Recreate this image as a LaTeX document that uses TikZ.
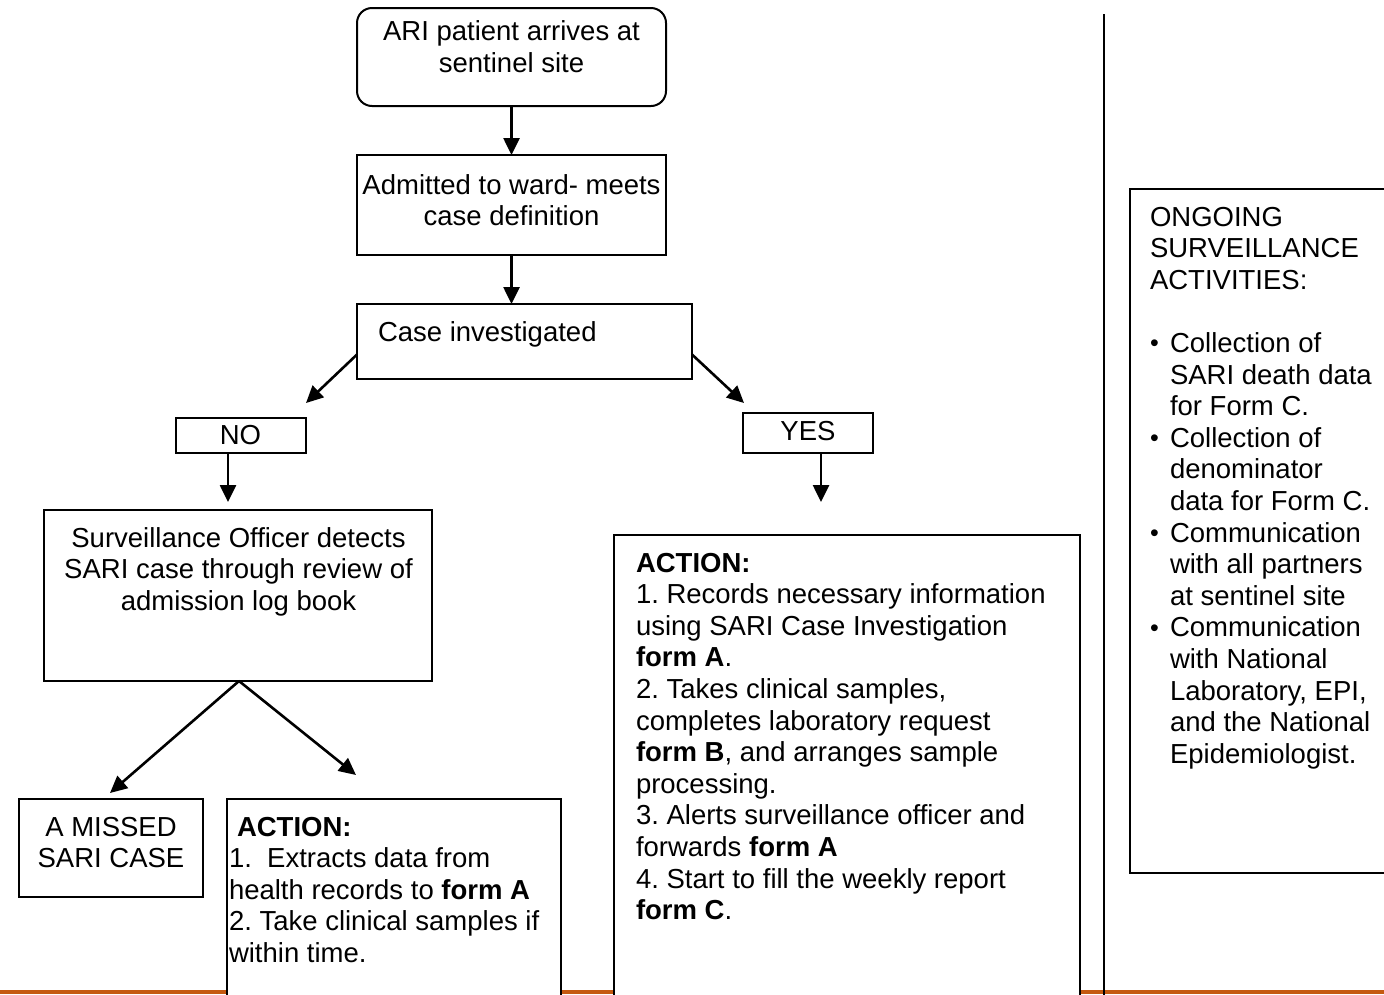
\documentclass[tikz,border=0pt]{standalone}
\usepackage{fontspec}
\setmainfont{Liberation Sans}
\usetikzlibrary{arrows.meta,calc}
\definecolor{rule}{RGB}{197,90,17}
\frenchspacing
\newcommand{\mybul}{\makebox[20pt][l]{\raisebox{0.5pt}{\fontsize{25pt}{25pt}\selectfont •}}}
\begin{document}
\begin{tikzpicture}[x=1pt,y=-1pt,
  box/.style={draw=black,line width=2pt,fill=white,inner sep=0pt,outer sep=0pt},
  txt/.style={inner sep=0pt,outer sep=0pt,font=\fontsize{27.5pt}{31.6pt}\selectfont\frenchspacing},
  arr/.style={line width=2.6pt,-{Triangle[length=17pt,width=16pt]}}]
\clip (0,0) rectangle (1384,994);
\fill[white] (0,0) rectangle (1384,994);
% bottom rule
\draw[rule,line width=3.6pt] (0,992) -- (1384,992);
% vertical separator
\coordinate (vt) at (1104,14);
\coordinate (vb) at (1104,1000);
\draw[line width=2.8pt] (vt) -- (vb);
% boxes
\node[box,rounded corners=15pt,minimum width=309pt,minimum height=98pt] (b1) at (511.5,57) {};
\node[box,minimum width=309pt,minimum height=100pt] (b2) at (511.5,205) {};
\node[box,minimum width=335pt,minimum height=75pt] (b3) at (524.5,341.5) {};
\node[box,minimum width=130pt,minimum height=35pt] (no) at (240.5,435.5) {};
\node[box,minimum width=130pt,minimum height=40pt] (yes) at (808,433) {};
\node[box,minimum width=388pt,minimum height=171pt] (so) at (238,595.5) {};
\node[box,minimum width=184pt,minimum height=98pt] (miss) at (111,848) {};
\node[box,minimum width=334pt,minimum height=230pt] (actl) at (394,914) {};
\node[box,minimum width=466pt,minimum height=490pt] (actr) at (847,780) {};
\node[box,line width=1.8pt,minimum width=280pt,minimum height=684pt] (ong) at (1270,531) {};
% texts
\node[txt,anchor=base] (t1) at (511.5,40.5) {\begin{tabular}[t]{@{}c@{}}ARI patient arrives at\\sentinel site\end{tabular}};
\node[txt,anchor=base] (t2) at (511.5,194) {\begin{tabular}[t]{@{}c@{}}Admitted to ward- meets\\case definition\end{tabular}};
\node[txt,anchor=base west] (t3) at (378,341) {Case investigated};
\node[txt,anchor=base] (tno) at (240.5,444) {NO};
\node[txt,anchor=base] (tyes) at (808,440) {YES};
\node[txt,anchor=base] (tso) at (238.5,547) {\begin{tabular}[t]{@{}c@{}}Surveillance Officer detects\\SARI case through review of\\admission log book\end{tabular}};
\node[txt,anchor=base] (tmiss) at (111,836) {\begin{tabular}[t]{@{}c@{}}A MISSED\\SARI CASE\end{tabular}};
\node[txt,anchor=base west] (tactl) at (229,836) {\begin{tabular}[t]{@{}l@{}}\hspace{8pt}\textbf{ACTION:}\\1.\ \ Extracts data from\\health records to \textbf{form A}\\2. Take clinical samples if\\within time.\end{tabular}};
\node[txt,anchor=base west] (tactr) at (636,572) {\begin{tabular}[t]{@{}l@{}}\textbf{ACTION:}\\1. Records necessary information\\using SARI Case Investigation\\\textbf{form A}.\\2. Takes clinical samples,\\completes laboratory request\\\textbf{form B}, and arranges sample\\processing.\\3. Alerts surveillance officer and\\forwards \textbf{form A}\\4. Start to fill the weekly report\\\textbf{form C}.\end{tabular}};
\node[txt,anchor=base west] (tong) at (1150,226) {\begin{tabular}[t]{@{}l@{}}ONGOING\\SURVEILLANCE\\ACTIVITIES:\\ \\\mybul Collection of\\\hspace{20pt}SARI death data\\\hspace{20pt}for Form C.\\\mybul Collection of\\\hspace{20pt}denominator\\\hspace{20pt}data for Form C.\\\mybul Communication\\\hspace{20pt}with all partners\\\hspace{20pt}at sentinel site\\\mybul Communication\\\hspace{20pt}with National\\\hspace{20pt}Laboratory, EPI,\\\hspace{20pt}and the National\\\hspace{20pt}Epidemiologist.\end{tabular}};
% connector end points
\coordinate (noend) at (306,403);
\coordinate (yesend) at (744,403);
\coordinate (noarr) at (228,502);
\coordinate (yesarr) at (821,502);
\coordinate (missend) at (110,793);
\coordinate (actlend) at (356,775);
% connectors
\draw[arr] (b1.south) -- (b2.north);
\draw[arr] (b2.south) -- (b2.south |- b3.north);
\draw[arr] ([yshift=-13pt]b3.west) -- (noend);
\draw[arr] ([yshift=-13pt]b3.east) -- (yesend);
\draw[arr] (no.south -| noarr) -- (noarr);
\draw[arr] (yes.south -| yesarr) -- (yesarr);
\draw[arr] ([xshift=1pt]so.south) -- (missend);
\draw[arr] ([xshift=1pt]so.south) -- (actlend);
\end{tikzpicture}
\end{document}
